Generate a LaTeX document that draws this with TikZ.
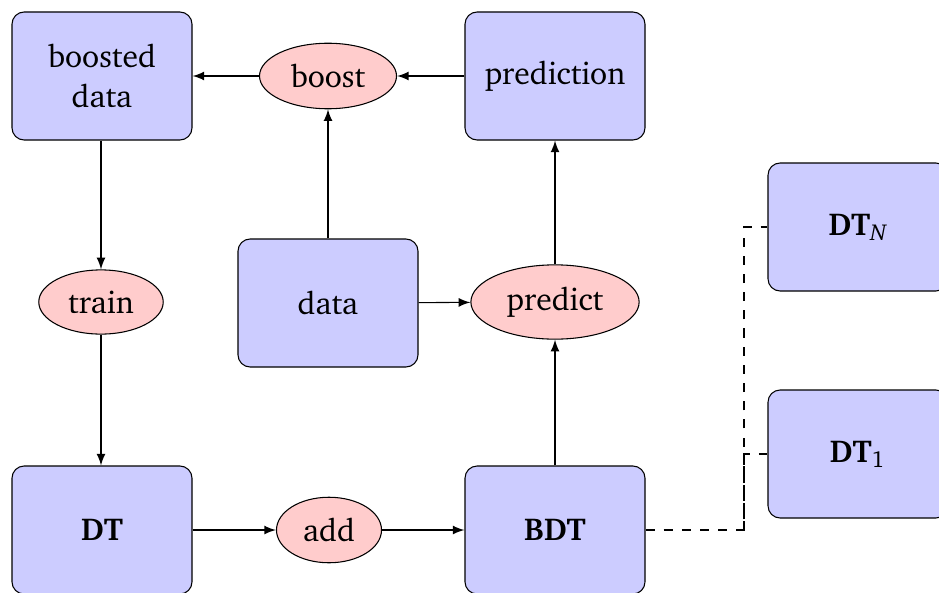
\documentclass[tikz,border=0pt]{standalone}
\usepackage[T1]{fontenc}
\usepackage{charter}
\usetikzlibrary{shapes.geometric,arrows}
\newcommand{\subit}[1]{\mbox{\fontsize{7.6}{8}\selectfont\itshape #1}}
\newcommand{\subrm}[1]{\mbox{\fontsize{7.6}{8}\selectfont\upshape\mdseries #1}}
\tikzset{
  every node/.style={font=\fontsize{10.45}{12.9}\selectfont},
  block/.style={draw, fill=blue!20, rounded corners, align=center,
    minimum width=59.4pt, minimum height=42.24pt, inner sep=0pt},
  oper/.style={draw, ellipse, fill=red!20, inner sep=3.7pt},
  flow/.style={-latex},
  link/.style={dashed}
}
\begin{document}
\begin{tikzpicture}[x=0.33pt, y=-0.33pt, line width=0.35pt]
  \useasboundingbox (0,0) rectangle (939,592);
  \clip (0,0) rectangle (939,592);
  % top row
  \node[block] (boosted) at (102,76) {boosted\\data};
  \node[oper] (boost) at (328,76) {boost};
  \node[block] (prediction) at (555,76) {prediction};
  % middle row
  \node[oper] (train) at (101,302) {train};
  \node[block] (data) at (328,303) {data};
  \node[oper] (predict) at (555,302) {predict};
  % bottom row
  \node[block] (dt) at (102,530) {\textbf{DT}};
  \node[oper] (add) at (329,530) {add};
  \node[block] (bdt) at (555,530) {\textbf{BDT}};
  % ensemble members
  \node[block] (dtn) at (858,227) {\textbf{DT}$_{\subit{N}}$};
  \node[block] (dt1) at (858,454) {\textbf{DT}$_{\subrm{1}}$};
  \coordinate (split) at (744,530);
  % data flow
  \draw[flow] (boost) -- (boosted);
  \draw[flow] (prediction) -- (boost);
  \draw[flow] (data) -- (boost);
  \draw[flow] (boosted.south -| train) -- (train);
  \draw[flow] (train) -- (dt.north -| train);
  \draw[flow] (dt) -- (add);
  \draw[flow] (add) -- (bdt);
  \draw[flow] (bdt) -- (predict);
  \draw[flow] (data) -- (predict);
  \draw[flow] (predict) -- (prediction);
  % trees inside the boosted ensemble
  \draw[link] (bdt.east) -- (split) |- (dtn.west);
  \draw[link] (split) |- (dt1.west);
\end{tikzpicture}
\end{document}
